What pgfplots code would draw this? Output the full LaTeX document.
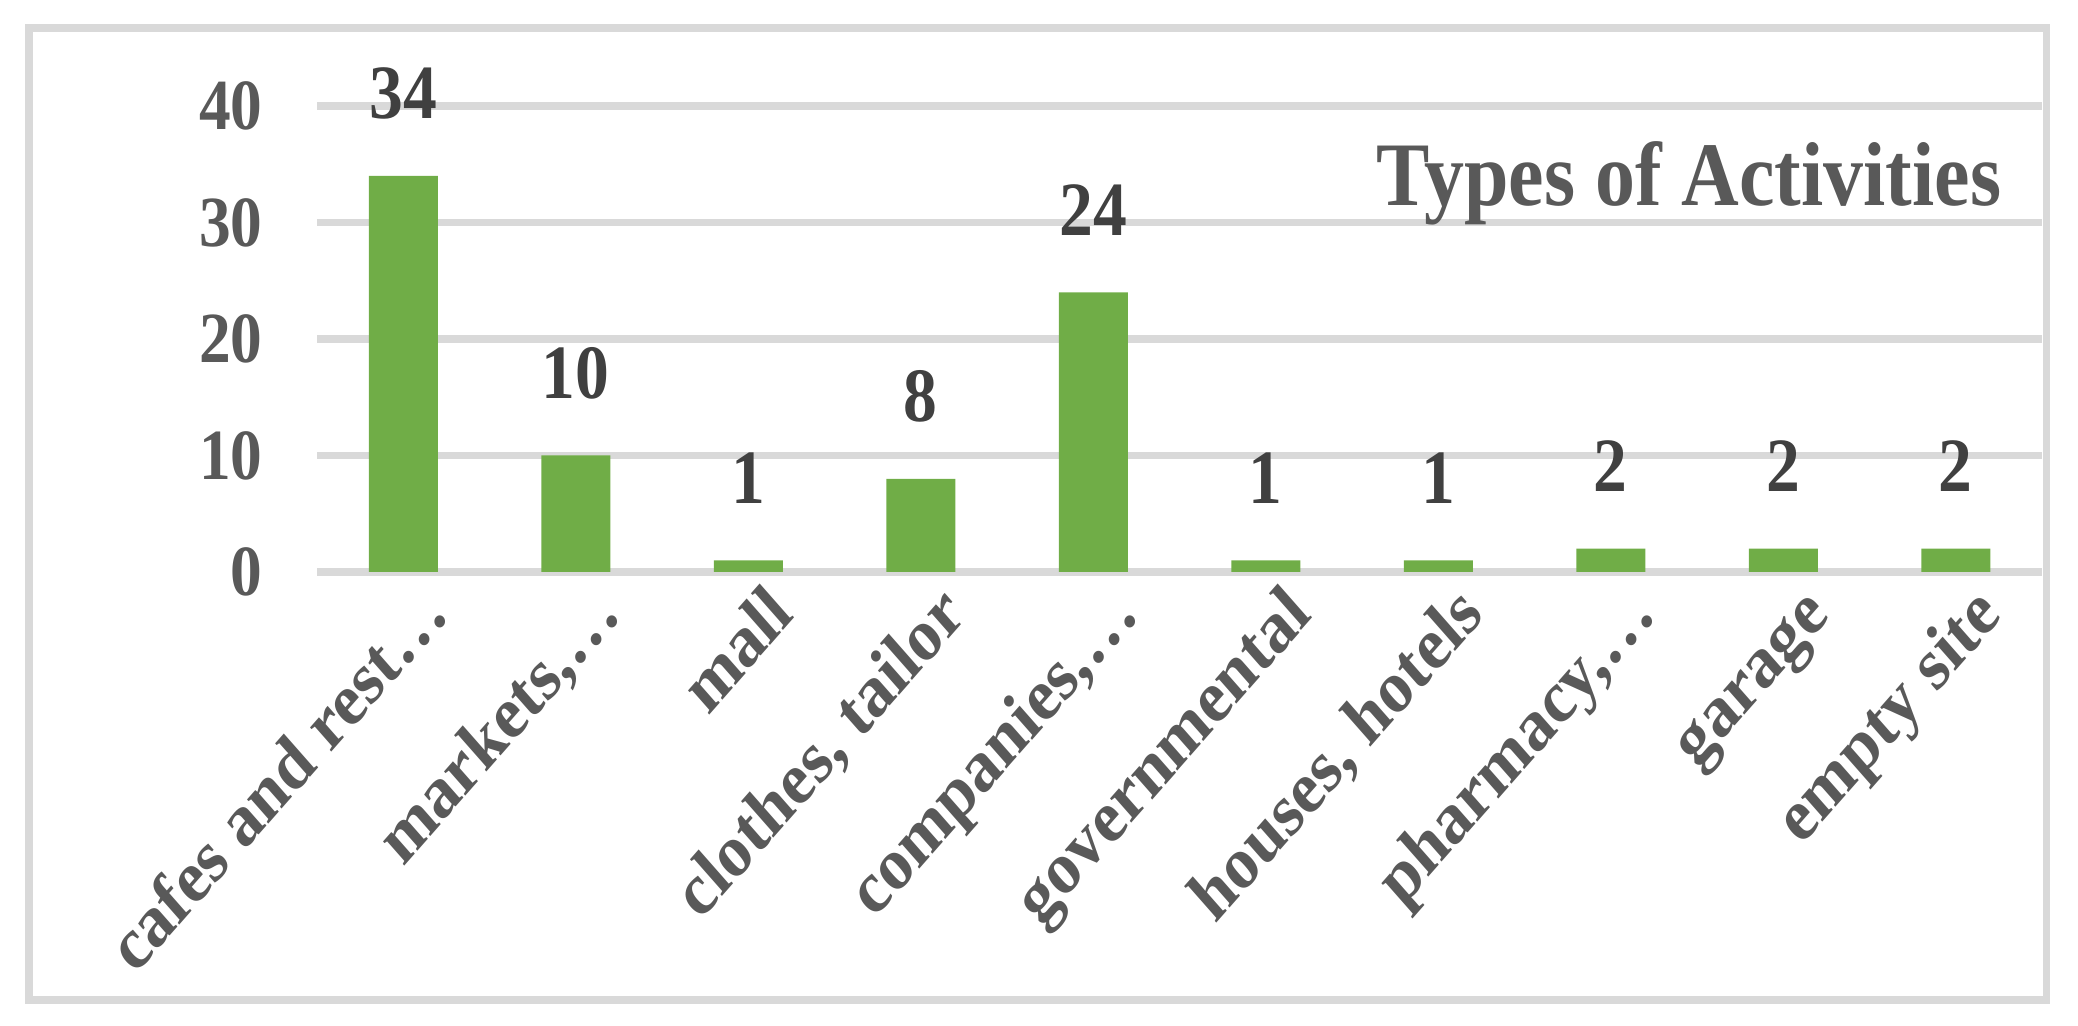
\documentclass[border=0pt]{standalone}
\usepackage{fontspec}
\setmainfont{Liberation Serif}
\usepackage{graphicx}
\usepackage{pgfplots}
\pgfplotsset{compat=1.18}

\definecolor{bargreen}{HTML}{70AD47}
\definecolor{gridgray}{HTML}{D9D9D9}
\definecolor{ticktext}{HTML}{595959}
\definecolor{labeltext}{HTML}{404040}

\begin{document}
% the reference is squeezed horizontally, so draw it wide and squeeze it the same way
\scalebox{0.88}[1]{%
\begin{tikzpicture}
\path[use as bounding box] (0,0) rectangle (590.34pt,256.5pt);
\draw[gridgray, line width=2pt] (8.24pt,6.5pt) rectangle (581.25pt,249.6pt);
\begin{axis}[
    at={(90.06pt,113.5pt)}, anchor=south west,
    scale only axis,
    width=490.06pt, height=116.5pt,
    xmin=-0.5, xmax=9.5,
    ymin=0, ymax=40,
    ytick={0,10,20,30,40},
    xtick={0,...,9},
    xticklabels={cafes and rest…, {markets,…}, mall, {clothes, tailor}, {companies,…},
        governmental, {houses, hotels}, {pharmacy,…}, garage, empty site},
    axis line style={draw=none},
    major tick length=0pt,
    ymajorgrids=true,
    major grid style={gridgray, line width=1.8pt},
    /pgf/number format/assume math mode=true,
    yticklabel style={anchor=east, inner sep=0pt, xshift=-15.3pt,
        font=\fontsize{18}{20}\selectfont\bfseries, text=ticktext},
    xticklabel style={xshift=13.6pt, yshift=-11.2pt, rotate=45, anchor=base east,
        inner sep=0pt, font=\fontsize{18.6}{20}\selectfont\bfseries, text=ticktext},
    ybar, bar width=0.4,
    nodes near coords,
    every node near coord/.append style={anchor=base, inner sep=0pt, yshift=14.3pt,
        font=\fontsize{19.2}{21}\selectfont\bfseries, text=labeltext},
]
\addplot[draw=none, fill=bargreen] coordinates {
    (0,34) (1,10) (2,1) (3,8) (4,24) (5,1) (6,1) (7,2) (8,2) (9,2)
};
\end{axis}
\node[anchor=base east, inner sep=0pt, text=ticktext,
    font=\fontsize{22.7}{25}\selectfont\bfseries] at (568.75pt,205pt) {Types of Activities};
\end{tikzpicture}%
}
\end{document}
